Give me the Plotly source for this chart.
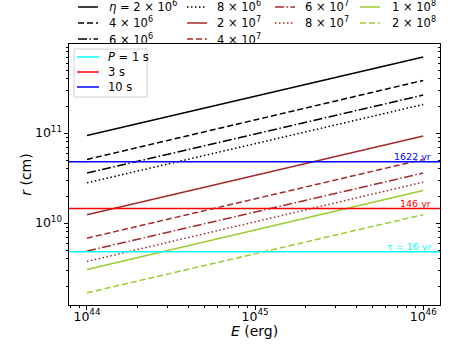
import math

import plotly.graph_objects as go

# energy endpoints (erg) and r (cm) read at E = 1e44 and E = 1e46
E_ENDS = [1e44, 1e46]
ETA_LABELS = ["<i>η</i> = 2 × 10<sup>6</sup>", "4 × 10<sup>6</sup>", "6 × 10<sup>6</sup>",
              "8 × 10<sup>6</sup>", "2 × 10<sup>7</sup>", "4 × 10<sup>7</sup>",
              "6 × 10<sup>7</sup>", "8 × 10<sup>7</sup>",
              "1 × 10<sup>8</sup>", "2 × 10<sup>8</sup>"]
R_AT_1E44 = [9.4e10, 5.1e10, 3.6e10, 2.8e10, 1.24e10, 6.8e9, 4.9e9, 3.75e9, 3.05e9, 1.68e9]
R_AT_1E46 = [7.0e11, 3.85e11, 2.65e11, 2.08e11, 9.3e10, 5.1e10, 3.6e10, 2.85e10, 2.3e10, 1.24e10]
ETA_COLORS = ["black"] * 4 + ["#a52a2a"] * 4 + ["#9acd32"] * 2
ETA_DASHES = ["solid", "6px,3px", "9px,2.5px,1.5px,2.5px", "1.5px,2.5px",
              "solid", "6px,3px", "9px,2.5px,1.5px,2.5px", "1.5px,2.5px",
              "solid", "6px,3px"]

# light-cylinder radii for the periods, and spin-down ages
P_LABELS = ["<i>P</i> = 1 s", "3 s", "10 s"]
P_RADII = [4.8e9, 1.45e10, 4.8e10]
P_COLORS = ["#00ffff", "#ff0000", "#0000ff"]
TAU_LABELS = ["τ = 16 yr", "146 yr", "1622 yr"]

X_RANGE = [43.893, 46.1]
Y_RANGE = [9.09, 11.99]

W, H = 463, 347
ML, MR, MT, MB = 69, 23, 44, 42


def px(x, y):
    """pixel position on the page -> paper coordinates"""
    return (x - ML) / (W - ML - MR), (H - MB - y) / (H - MT - MB)


fig = go.Figure()

for label, r0, r1, color, dash in zip(ETA_LABELS, R_AT_1E44, R_AT_1E46, ETA_COLORS, ETA_DASHES):
    fig.add_trace(go.Scatter(x=E_ENDS, y=[r0, r1], mode="lines", name=label,
                             line=dict(color=color, width=1.5, dash=dash)))

for label, r, color in zip(P_LABELS, P_RADII, P_COLORS):
    fig.add_trace(go.Scatter(x=[10 ** X_RANGE[0], 10 ** X_RANGE[1]], y=[r, r], mode="lines",
                             name=label, line=dict(color=color, width=1.5)))

for label, r, color in zip(TAU_LABELS, P_RADII, P_COLORS):
    fig.add_annotation(x=46.058, y=math.log10(r), text=label, showarrow=False,
                       xanchor="right", yanchor="bottom", font=dict(size=9.5, color=color),
                       yshift=-2)

# invisible trace carrying the inward ticks on the right spine
fig.add_trace(go.Scatter(x=E_ENDS, y=[1e10, 1e10], yaxis="y2", mode="lines",
                         line=dict(width=0), hoverinfo="skip"))

# legend above the axes, four columns filled top to bottom
cols = [(78, 107), (187, 215), (275, 303), (360, 390)]
slots = [(0, 0), (0, 1), (0, 2), (1, 0), (1, 1), (1, 2), (2, 0), (2, 1), (3, 0), (3, 1)]
rows_y = [7, 23, 39]
for label, color, dash, (c, r) in zip(ETA_LABELS, ETA_COLORS, ETA_DASHES, slots):
    x0, y0 = px(cols[c][0], rows_y[r])
    x1, _ = px(cols[c][0] + 20, rows_y[r])
    xt, _ = px(cols[c][1], rows_y[r])
    fig.add_shape(type="line", xref="paper", yref="paper", x0=x0, x1=x1, y0=y0, y1=y0,
                  line=dict(color=color, width=1.5, dash=dash))
    fig.add_annotation(xref="paper", yref="paper", x=xt, y=y0, text=label, showarrow=False,
                       xanchor="left", yanchor="middle", font=dict(size=11.5))

# framed legend for the periods, inside the axes
bx0, by0 = px(74, 49)
bx1, by1 = px(147, 97)
fig.add_shape(type="rect", xref="paper", yref="paper", x0=bx0, x1=bx1, y0=by0, y1=by1,
              fillcolor="white", line=dict(color="#d0d0d0", width=1), layer="above")
for i, (label, color) in enumerate(zip(P_LABELS, P_COLORS)):
    yy = 57 + 15 * i
    x0, y0 = px(77, yy)
    x1, _ = px(99, yy)
    xt, _ = px(106, yy)
    fig.add_shape(type="line", xref="paper", yref="paper", x0=x0, x1=x1, y0=y0, y1=y0,
                  line=dict(color=color, width=1.5), layer="above")
    fig.add_annotation(xref="paper", yref="paper", x=xt, y=y0, text=label, showarrow=False,
                       xanchor="left", yanchor="middle", font=dict(size=11.5))

axis_common = dict(type="log", showgrid=False, zeroline=False, linecolor="black", linewidth=1,
                   ticks="outside", ticklen=4, tickcolor="black", dtick=1,
                   exponentformat="power", tickfont=dict(size=10, color="black"),
                   minor=dict(ticks="outside", ticklen=2, tickcolor="black", dtick="D1",
                              showgrid=False))

fig.update_layout(
    width=W, height=H,
    margin=dict(l=ML, r=MR, t=MT, b=MB, autoexpand=False),
    paper_bgcolor="white", plot_bgcolor="white", showlegend=False,
    font=dict(family="DejaVu Sans", size=11, color="black"),
    xaxis=dict(axis_common, range=X_RANGE, mirror=True, ticklabelstandoff=-4,
               title=dict(text="<i>E</i> (erg)", font=dict(size=14), standoff=2)),
    yaxis=dict(axis_common, range=Y_RANGE, mirror=True,
               title=dict(text="<i>r</i> (cm)", font=dict(size=14), standoff=0)),
    yaxis2=dict(type="log", range=Y_RANGE, overlaying="y", side="right", showgrid=False,
                zeroline=False, showticklabels=False, showline=False, ticks="inside",
                ticklen=4, tickcolor="black", dtick=1,
                minor=dict(ticks="inside", ticklen=2, tickcolor="black", dtick="D1",
                           showgrid=False)),
)

fig.write_html("out.html", config={"displayModeBar": False},
               post_script="document.body.style.margin = '0';")
